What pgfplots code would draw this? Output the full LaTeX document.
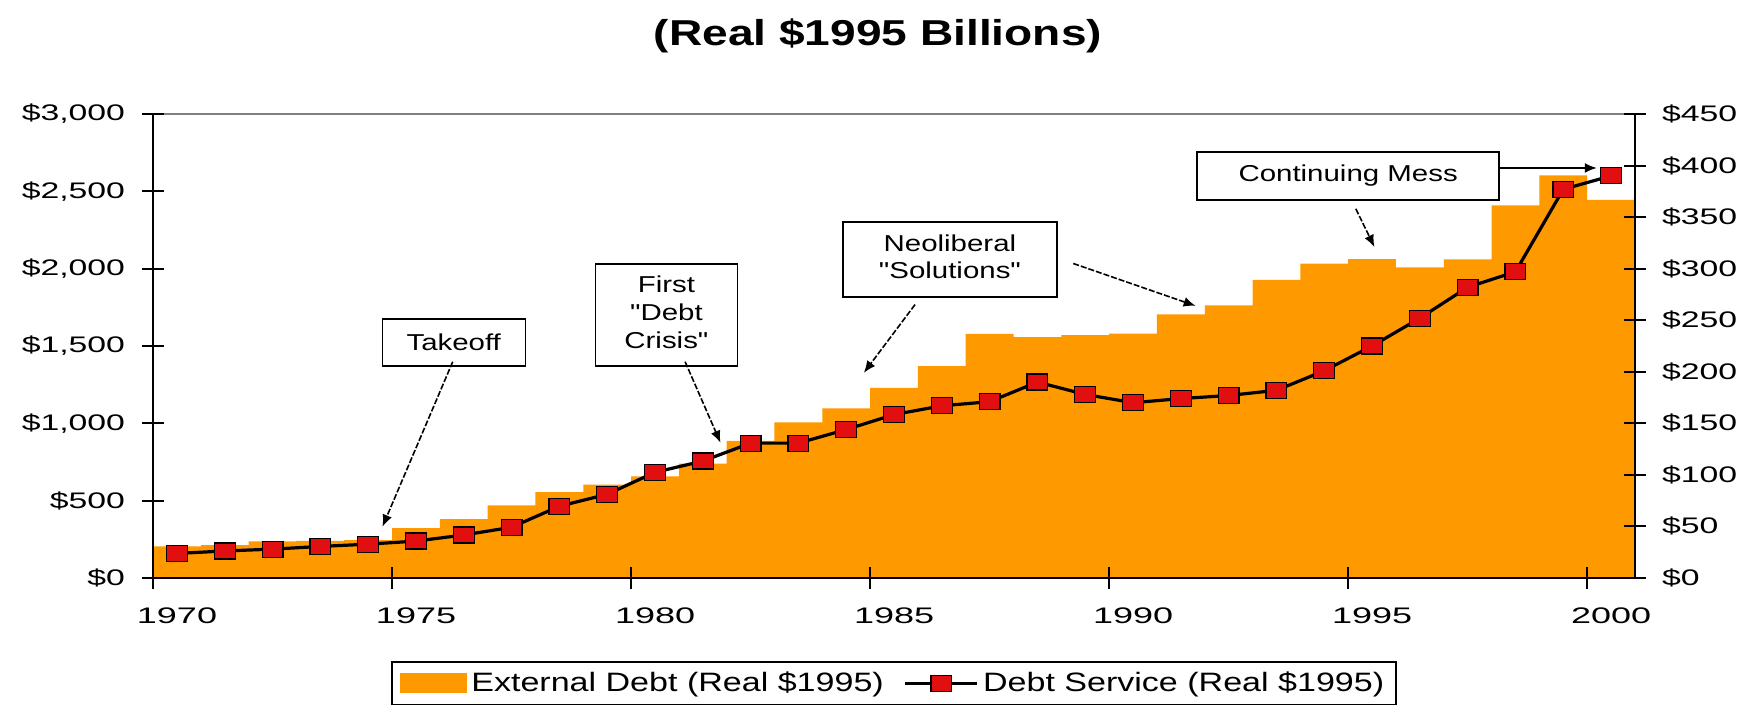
\documentclass[border=0pt]{standalone}
\usepackage{graphicx}
\usepackage{fontspec}
\setmainfont{Liberation Sans}
\newfontfamily\plainfam{Liberation Sans}
\usepackage{pgfplots}
\usepackage{pgfplotstable}
\pgfplotsset{compat=1.18}
\usetikzlibrary{arrows.meta}
\definecolor{debtorange}{RGB}{255,153,0}
\definecolor{mkred}{RGB}{225,15,15}
\newcommand{\wide}[1]{\scalebox{1.5}[1]{#1}}
\newcommand{\xwide}[1]{\scalebox{1.6}[1]{#1}}
\newcommand{\awide}[1]{\scalebox{1.28}[1]{#1}}
\newcommand{\tickfont}{\fontsize{11.25bp}{13bp}\selectfont}
\newcommand{\annfont}{\plainfam\fontsize{11.5bp}{13.8bp}\selectfont}

\pgfplotstableread{
year debt
1970 204
1971 212
1972 236
1973 240
1974 245
1975 322
1976 381
1977 470
1978 556
1979 603
1980 657
1981 740
1982 886
1983 1006
1984 1096
1985 1230
1986 1370
1987 1578
1988 1558
1989 1570
1990 1580
1991 1705
1992 1762
1993 1927
1994 2033
1995 2062
1996 2008
1997 2060
1998 2410
1999 2603
2000 2445
2001 2445
}\debttable

\pgfplotstableread{
x service
1970.5 23.8
1971.5 26.2
1972.5 28.0
1973.5 30.6
1974.5 32.8
1975.5 35.8
1976.5 41.7
1977.5 49.2
1978.5 69.6
1979.5 81.2
1980.5 102.5
1981.5 113.4
1982.5 130.8
1983.5 130.8
1984.5 144.0
1985.5 158.5
1986.5 167.0
1987.5 171.0
1988.5 190.0
1989.5 178.0
1990.5 170.0
1991.5 174.0
1992.5 177.0
1993.5 182.0
1994.5 201.0
1995.5 225.0
1996.5 252.0
1997.5 282.0
1998.5 297.0
1999.5 377.0
2000.5 390.0
}\servicetable

\pgfplotsset{svclegend/.style={legend image code/.code={\draw[mark repeat=2,mark phase=2,##1] plot coordinates {(0bp,0bp) (18bp,0bp) (36bp,0bp)};}}}
\tikzset{annarrow/.style={line width=0.8bp, dash pattern=on 3bp off 1bp, -{Latex[length=6bp,width=5bp]}}}

\begin{document}
\begin{tikzpicture}
\useasboundingbox (0bp,0bp) rectangle (878bp,352.5bp);
\node[font=\fontsize{18bp}{21bp}\selectfont\bfseries, inner sep=0pt] at (439bp,334.5bp) {\scalebox{1.28}[1]{(Real \$1995 Billions)}};

\begin{axis}[
  at={(76.5bp,63.5bp)}, anchor=south west,
  scale only axis, width=741bp, height=232bp,
  xmin=1970, xmax=2001, ymin=0, ymax=3000,
  axis x line*=bottom, axis y line*=left,
  axis line style={line width=1bp, black},
  axis on top,
  tick align=center, major tick length=11bp,
  tick style={black, line width=1bp},
  xtick={1970,1975,...,2000},
  xticklabels={\xwide{1970},\xwide{1975},\xwide{1980},\xwide{1985},\xwide{1990},\xwide{1995},\xwide{2000}},
  xticklabel style={font=\tickfont, anchor=north, yshift=-6bp, xshift=12bp},
  ytick={0,500,...,3000},
  yticklabel={\wide{\$\pgfmathprintnumber[fixed,precision=0,1000 sep={,},assume math mode=true]{\tick}}},
  yticklabel style={font=\tickfont, anchor=east, xshift=-5bp},
  clip=false,
]
\addplot[fill=debtorange, draw=none, const plot] table[x=year, y=debt] {\debttable} \closedcycle;
\draw[gray, line width=0.8bp] (rel axis cs:0,1) -- (rel axis cs:1,1);

% annotations
\node[draw=black, fill=white, line width=0.7bp, minimum width=71.5bp, minimum height=23.5bp, inner sep=0pt, font=\annfont] at (axis cs:1976.29,1522.6) {\awide{Takeoff}};
\draw[annarrow] (axis cs:1976.27,1398.5) -- (axis cs:1974.80,331.7);

\node[draw=black, fill=white, line width=0.7bp, minimum width=70.8bp, minimum height=51bp, inner sep=0pt, font=\annfont] at (axis cs:1980.74,1700) {\awide{\begin{tabular}{@{}c@{}}First\\"Debt\\Crisis"\end{tabular}}};
\draw[annarrow] (axis cs:1981.13,1398.5) -- (axis cs:1981.87,874.8);

\node[draw=black, fill=white, line width=0.7bp, minimum width=107bp, minimum height=37.5bp, inner sep=0pt, font=\annfont] at (axis cs:1986.67,2059) {\awide{\begin{tabular}{@{}c@{}}Neoliberal\\"Solutions"\end{tabular}}};
\draw[annarrow] (axis cs:1985.94,1767.7) -- (axis cs:1984.87,1326.7);
\draw[annarrow] (axis cs:1989.25,2033.4) -- (axis cs:1991.81,1759.3);

\node[draw=black, fill=white, line width=0.7bp, minimum width=151bp, minimum height=24bp, inner sep=0pt, font=\annfont] at (axis cs:1995.0,2599) {\awide{Continuing Mess}};
\draw[annarrow] (axis cs:1995.16,2387) -- (axis cs:1995.55,2140);
\draw[line width=0.8bp, -{Latex[length=6bp,width=5bp]}] (axis cs:1998.13,2651) -- (axis cs:2000.20,2651);
\end{axis}

\begin{axis}[
  at={(76.5bp,63.5bp)}, anchor=south west,
  scale only axis, width=741bp, height=232bp,
  xmin=1970, xmax=2001, ymin=0, ymax=450,
  axis y line*=right, axis x line=none,
  axis line style={line width=1bp, black},
  tick align=center, major tick length=11bp,
  tick style={black, line width=1bp},
  ytick={0,50,...,450},
  yticklabel={\wide{\$\pgfmathprintnumber[fixed,precision=0,assume math mode=true]{\tick}}},
  yticklabel style={font=\tickfont, anchor=west, xshift=4.5bp},
  clip=false,
  legend columns=2,
  legend style={at={(0.5,-0.1789)}, anchor=north, draw=black, line width=0.8bp,
    font=\fontsize{13.3bp}{15bp}\selectfont, inner xsep=4bp, inner ysep=3bp,
    /tikz/every even column/.append style={column sep=8bp}},
]
\addlegendimage{legend image code/.code={\fill[debtorange] (0bp,-4.5bp) rectangle (33bp,4.5bp);}}
\addlegendentry{\awide{External Debt (Real \$1995)}}
\addplot[black, line width=1.6bp, mark=square*, mark size=4bp,
  mark options={fill=mkred, draw=black, line width=0.6bp, xscale=1.3}, svclegend]
  table[x=x, y=service] {\servicetable};
\addlegendentry{\awide{Debt Service (Real \$1995)}}
\end{axis}
\end{tikzpicture}
\end{document}
